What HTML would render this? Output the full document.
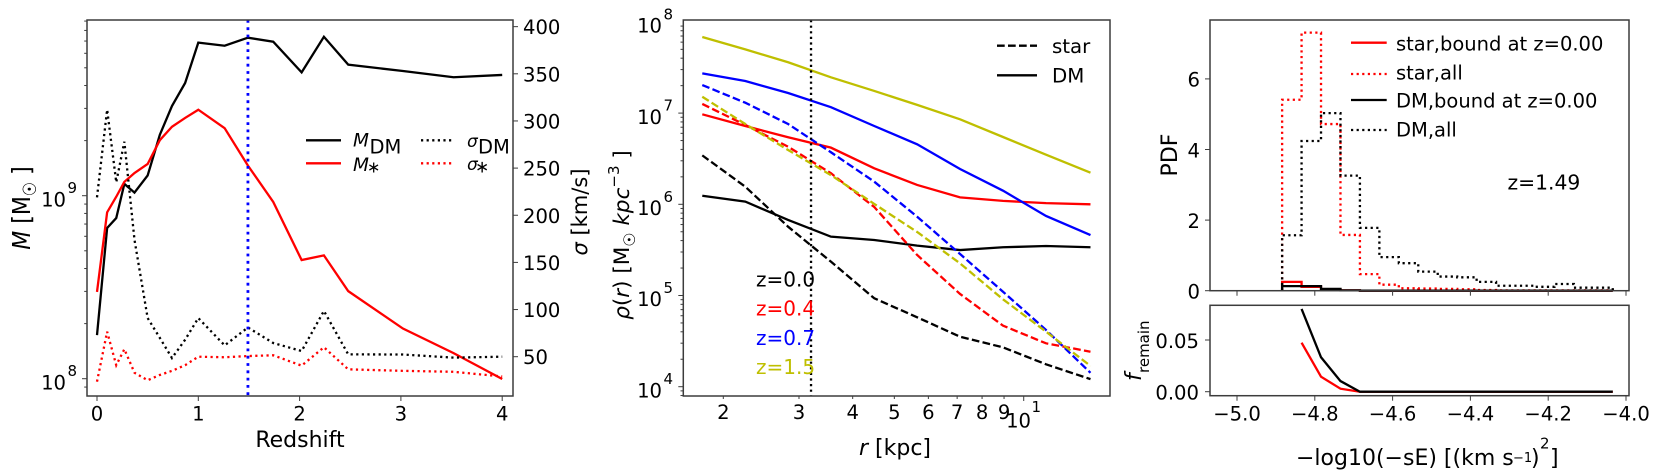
<!DOCTYPE html>
<html>
<head>
<meta charset="utf-8">
<title>Galaxy mass, density and energy panels</title>
<style>
html,body{margin:0;padding:0;background:#fff;width:1660px;height:475px;overflow:hidden}
svg{display:block;filter:blur(0.35px)}
text{font-family:"DejaVu Sans","Liberation Sans",sans-serif;fill:#000}
.i{font-style:italic}
</style>
</head>
<body>
<svg id="fig" xmlns="http://www.w3.org/2000/svg" width="1660" height="475" viewBox="0 0 1660 475">
  <rect x="0" y="0" width="1660" height="475" fill="#fff"/>
  <g id="p1"></g>
  <g id="p2"></g>
  <g id="p3"></g>
  <g id="p4"></g>

  <text x="300" y="447" font-size="22" text-anchor="middle">Redshift</text>
  <text transform="translate(30,208) rotate(-90) scale(1,1.15)" font-size="22" text-anchor="middle"><tspan class="i">M</tspan> [M<tspan font-size="16" dy="5">☉</tspan><tspan dy="-5"> ]</tspan></text>
  <text transform="translate(587,212) rotate(-90)" font-size="21" text-anchor="middle"><tspan class="i">σ</tspan> [km/s]</text>

  <g>
    <line x1="306" x2="341" y1="140.3" y2="140.3" stroke="#000" stroke-width="2.3"/>
    <text x="353" y="146.5" font-size="18.5" class="i">M</text>
    <text x="369.5" y="153.5" font-size="19.5">DM</text>
    <line x1="306" x2="341" y1="163.3" y2="163.3" stroke="#f00" stroke-width="2.3"/>
    <text x="353" y="171" font-size="18.5" class="i">M</text>
    <text x="367" y="172.5" font-size="16">∗</text>
    <line x1="421" x2="454" y1="140.3" y2="140.3" stroke="#000" stroke-width="2.3" stroke-dasharray="2.2 3.4"/>
    <text x="467" y="147" font-size="17" class="i">σ</text>
    <text x="478" y="153.5" font-size="19.5">DM</text>
    <line x1="421" x2="454" y1="163.3" y2="163.3" stroke="#f00" stroke-width="2.3" stroke-dasharray="2.2 3.4"/>
    <text x="467" y="170" font-size="17" class="i">σ</text>
    <text x="475" y="172.5" font-size="17">∗</text>
  </g>

  <text x="895" y="455" font-size="22" text-anchor="middle"><tspan class="i">r</tspan> [kpc]</text>
  <text transform="translate(629,235) rotate(-90)" font-size="21.5" text-anchor="middle"><tspan class="i">ρ</tspan>(<tspan class="i">r</tspan>) [M<tspan font-size="16" dy="6">☉</tspan><tspan class="i" dy="-6"> kpc</tspan><tspan font-size="15" dy="-10">−3</tspan><tspan dy="10"> ]</tspan></text>

  <g>
    <line x1="997" x2="1037" y1="45.7" y2="45.7" stroke="#000" stroke-width="2.3" stroke-dasharray="7.7 3.3"/>
    <text x="1052" y="53" font-size="19.8">star</text>
    <line x1="997" x2="1037" y1="75.3" y2="75.3" stroke="#000" stroke-width="2.3"/>
    <text x="1052" y="82.7" font-size="19.8">DM</text>
  </g>
  <g>
    <text x="756" y="286.7" font-size="20" style="fill:#000">z=0.0</text>
    <text x="756" y="315.7" font-size="20" style="fill:#f00">z=0.4</text>
    <text x="756" y="345" font-size="20" style="fill:#00f">z=0.7</text>
    <text x="756" y="374" font-size="20" style="fill:#bfbf00">z=1.5</text>
  </g>

  <text transform="translate(1177,155) rotate(-90)" font-size="22" text-anchor="middle">PDF</text>
  <g>
    <line x1="1351" x2="1386.7" y1="42.7" y2="42.7" stroke="#f00" stroke-width="2.3"/>
    <text x="1396" y="50.7" font-size="19.5">star,bound at z=0.00</text>
    <line x1="1351" x2="1386.7" y1="74" y2="74" stroke="#f00" stroke-width="2.3" stroke-dasharray="2.2 3.4"/>
    <text x="1396" y="79.3" font-size="19.5">star,all</text>
    <line x1="1351" x2="1386.7" y1="100" y2="100" stroke="#000" stroke-width="2.3"/>
    <text x="1396" y="107.7" font-size="19.5">DM,bound at z=0.00</text>
    <line x1="1351" x2="1386.7" y1="130" y2="130" stroke="#000" stroke-width="2.3" stroke-dasharray="2.2 3.4"/>
    <text x="1396" y="136.3" font-size="19.5">DM,all</text>
  </g>
  <text x="1507.5" y="189.3" font-size="20.3">z=1.49</text>
  <text transform="translate(1141,381) rotate(-90)" font-size="22"><tspan class="i">f</tspan></text>
  <text transform="translate(1149,373) rotate(-90)" font-size="15">remain</text>
  <text x="1296" y="465" font-size="22">−log10(−sE) [(km s<tspan x="1513" font-size="13" y="462">−1</tspan><tspan x="1531" y="465">)</tspan><tspan x="1540" y="448.5" font-size="15">2</tspan><tspan x="1550" y="465">]</tspan></text>
</svg>

<script>
// ---- Panel 1: mass and velocity dispersion history ----
const redshift = [0, 0.1, 0.19, 0.27, 0.37, 0.5, 0.62, 0.74, 0.87, 1.0, 1.26, 1.49, 1.74, 2.02, 2.24, 2.48, 3.02, 3.52, 4.0];
const massDM = [1.73e8, 6.66e8, 7.55e8, 1.16e9, 1.04e9, 1.29e9, 2.15e9, 3.09e9, 4.13e9, 6.86e9, 6.60e9, 7.30e9, 6.94e9, 4.72e9, 7.39e9, 5.20e9, 4.80e9, 4.44e9, 4.57e9];
const massStar = [2.98e8, 8.11e8, 9.87e8, 1.19e9, 1.33e9, 1.49e9, 2.01e9, 2.38e9, 2.66e9, 2.95e9, 2.34e9, 1.46e9, 9.24e8, 4.45e8, 4.72e8, 3.01e8, 1.88e8, 1.38e8, 9.96e7];
const sigmaDM = [219, 312, 235, 278, 174, 91, 70, 48.6, 68, 91, 62, 81, 64.5, 56, 98.5, 52.5, 52.3, 49, 50];
const sigmaStar = [23.5, 76.5, 41, 58, 33, 25, 30.6, 35, 41, 50, 49.4, 50.7, 51.5, 40.5, 60, 36.6, 35, 34, 29];
const redshiftMarker = 1.49;
const redshiftTicks = [0, 1, 2, 3, 4];
const sigmaTicks = [50, 100, 150, 200, 250, 300, 350, 400];
const massDecades = [8, 9];

// ---- Panel 2: density profiles ----
const radius = [1.787, 2.25, 2.83, 3.56, 4.49, 5.65, 7.11, 8.95, 11.27, 14.3];
const dmZ00 = [1.24e6, 1.07e6, 6.73e5, 4.42e5, 4.06e5, 3.52e5, 3.15e5, 3.38e5, 3.49e5, 3.38e5];
const dmZ04 = [9.7e6, 7.22e6, 5.43e6, 4.18e6, 2.48e6, 1.63e6, 1.19e6, 1.09e6, 1.03e6, 1.0e6];
const dmZ07 = [2.73e7, 2.25e7, 1.66e7, 1.16e7, 7.22e6, 4.55e6, 2.44e6, 1.41e6, 7.45e5, 4.60e5];
const dmZ15 = [6.83e7, 5.0e7, 3.61e7, 2.47e7, 1.75e7, 1.23e7, 8.55e6, 5.47e6, 3.50e6, 2.22e6];
const starZ00 = [3.44e6, 1.56e6, 5.68e5, 2.35e5, 9.32e4, 5.77e4, 3.53e4, 2.70e4, 1.76e4, 1.21e4];
const starZ04 = [1.26e7, 7.41e6, 4.28e6, 2.19e6, 9.34e5, 2.78e5, 1.04e5, 4.67e4, 2.99e4, 2.42e4];
const starZ07 = [2.03e7, 1.30e7, 7.59e6, 3.72e6, 1.77e6, 7.31e5, 2.85e5, 1.10e5, 4.19e4, 1.42e4];
const starZ15 = [1.51e7, 7.59e6, 3.94e6, 2.09e6, 1.01e6, 4.97e5, 2.25e5, 9.08e4, 4.01e4, 1.69e4];
const radiusMarker = 3.2;
const radiusTicks = [2, 3, 4, 5, 6, 7, 8, 9];
const densityDecades = [4, 5, 6, 7, 8];

// ---- Panel 3: energy PDF histograms ----
const energyEdges = [-4.884, -4.834, -4.784, -4.734, -4.684, -4.634, -4.584, -4.534, -4.484, -4.434, -4.384, -4.334, -4.284, -4.234, -4.184, -4.134, -4.084, -4.034];
const pdfStarBound = [0.25, 0.11, 0.04, 0.01, 0, 0, 0, 0, 0, 0, 0, 0, 0, 0, 0, 0, 0];
const pdfStarAll = [5.41, 7.31, 4.72, 1.58, 0.47, 0.17, 0.07, 0.06, 0.05, 0.04, 0.02, 0.01, 0.01, 0.01, 0.01, 0.01, 0.01];
const pdfDMBound = [0.13, 0.13, 0.05, 0.01, 0, 0, 0, 0, 0, 0, 0, 0, 0, 0, 0, 0, 0];
const pdfDMAll = [1.57, 4.24, 5.03, 3.26, 1.78, 0.95, 0.78, 0.54, 0.40, 0.38, 0.25, 0.14, 0.14, 0.11, 0.19, 0.085, 0.085];
const pdfTicks = [0, 2, 4, 6];
const energyTicks = [-5.0, -4.8, -4.6, -4.4, -4.2, -4.0];

// ---- Panel 4: remaining fraction ----
const fracEnergy = [-4.834, -4.784, -4.734, -4.684, -4.634, -4.584, -4.534, -4.484, -4.434, -4.384, -4.334, -4.284, -4.234, -4.184, -4.134, -4.084, -4.034];
const fracDM = [0.08, 0.0333, 0.0103, 0, 0, 0, 0, 0, 0, 0, 0, 0, 0, 0, 0, 0, 0];
const fracStar = [0.0474, 0.0145, 0.0029, 0, 0, 0, 0, 0, 0, 0, 0, 0, 0, 0, 0, 0, 0];
const fracTicks = [0, 0.05];

const NS = 'http://www.w3.org/2000/svg';
const AXIS = '#3c3c3c';
const YEL = '#bfbf00';
const DOT = '2.2 3.4';
const DASH = '7.7 3.3';
const LW = 2.3;
const TICK_FONT = 19.6;

function el(parent, tag, attrs, text) {
  const e = document.createElementNS(NS, tag);
  for (const k in attrs) e.setAttribute(k, attrs[k]);
  if (text !== undefined) e.textContent = text;
  parent.appendChild(e);
  return e;
}

function series(parent, name, xs, ys, sx, sy, color, dash, width) {
  const d = xs.map((v, i) => (i ? 'L' : 'M') + sx(v).toFixed(2) + ' ' + sy(ys[i]).toFixed(2)).join('');
  const p = el(parent, 'path', {d: d, fill: 'none', stroke: color, 'stroke-width': width || LW, 'stroke-dasharray': dash || 'none', 'stroke-linejoin': 'miter'});
  
  
  return p;
}

function stepHist(parent, name, edges, vals, sx, sy, color, dash) {
  let d = 'M' + sx(edges[0]).toFixed(2) + ' ' + sy(0).toFixed(2);
  vals.forEach((v, i) => {
    d += 'L' + sx(edges[i]).toFixed(2) + ' ' + sy(v).toFixed(2);
    d += 'L' + sx(edges[i + 1]).toFixed(2) + ' ' + sy(v).toFixed(2);
  });
  d += 'L' + sx(edges[edges.length - 1]).toFixed(2) + ' ' + sy(0).toFixed(2);
  const p = el(parent, 'path', {d: d, fill: 'none', stroke: color, 'stroke-width': LW, 'stroke-dasharray': dash || 'none'});
  
  
  return p;
}

function frame(parent, name, l, t, r, b) {
  const f = el(parent, 'rect', {x: l, y: t, width: r - l, height: b - t, fill: 'none', stroke: AXIS, 'stroke-width': 1.5});
  
  
}

function tick(parent, name, x1, y1, x2, y2) {
  const t = el(parent, 'line', {x1: x1, y1: y1, x2: x2, y2: y2, stroke: AXIS, 'stroke-width': 1});
  
  
}

function label(parent, name, x, y, anchor, size, str) {
  const t = el(parent, 'text', {x: x, y: y, 'text-anchor': anchor, 'font-size': size}, str);
  
  
}

function logAxis(parent, decades, sy, axisX, endX, supX, lo, hi) {
  for (let e = lo; e <= hi; e++) {
    for (let m = 1; m < 10; m++) {
      const v = e + Math.log10(m);
      const y = sy(Math.pow(10, v));
      if (y < 20 || y > 396) continue;
      tick(parent, m === 1 ? 'y-major-tick' : 'y-minor-tick', axisX - (m === 1 ? 5 : 2.8), y, axisX, y);
    }
  }
  decades.forEach(e => {
    const y = sy(Math.pow(10, e));
    label(parent, 'y-tick-label', endX, y + 10.7, 'end', TICK_FONT, '10');
    label(parent, 'y-tick-exponent', supX, y - 2.5, 'start', 15, String(e));
  });
}

const g1 = document.getElementById('p1');
const g2 = document.getElementById('p2');
const g3 = document.getElementById('p3');
const g4 = document.getElementById('p4');

// Panel 1
const x1 = z => 97 + 101.3 * z;
const yM = m => 378.7 - 183 * (Math.log10(m) - 8);
const yS = s => 356.7 - (s - 50) * 0.943;
series(g1, 'm-dm-line', redshift, massDM, x1, yM, '#000');
series(g1, 'm-star-line', redshift, massStar, x1, yM, '#f00');
series(g1, 'sigma-dm-line', redshift, sigmaDM, x1, yS, '#000', DOT);
series(g1, 'sigma-star-line', redshift, sigmaStar, x1, yS, '#f00', DOT);
const mk1 = el(g1, 'line', {x1: x1(redshiftMarker), x2: x1(redshiftMarker), y1: 20, y2: 396, stroke: '#00f', 'stroke-width': 2.8, 'stroke-dasharray': '2.8 4.5'});


frame(g1, 'mass-axes-frame', 87, 20, 513, 396);
redshiftTicks.forEach(z => {
  tick(g1, 'x-tick', x1(z), 396, x1(z), 401);
  label(g1, 'x-tick-label', x1(z), 420.5, 'middle', TICK_FONT, String(z));
});
logAxis(g1, massDecades, yM, 87, 66, 67.5, 7, 9);
sigmaTicks.forEach(s => {
  tick(g1, 'sigma-tick', 513, yS(s), 518, yS(s));
  label(g1, 'sigma-tick-label', 523, yS(s) + 7.5, 'start', TICK_FONT, String(s));
});

// Panel 2
const x2 = r => 723.3 + 429.8 * Math.log10(r / 2);
const yD = d => 386.7 - 91.2 * (Math.log10(d) - 4);
series(g2, 'star-z0-0-line', radius, starZ00, x2, yD, '#000', DASH);
series(g2, 'dm-z0-0-line', radius, dmZ00, x2, yD, '#000');
series(g2, 'star-z0-4-line', radius, starZ04, x2, yD, '#f00', DASH);
series(g2, 'dm-z0-4-line', radius, dmZ04, x2, yD, '#f00');
series(g2, 'star-z0-7-line', radius, starZ07, x2, yD, '#00f', DASH);
series(g2, 'dm-z0-7-line', radius, dmZ07, x2, yD, '#00f');
series(g2, 'star-z1-5-line', radius, starZ15, x2, yD, YEL, DASH);
series(g2, 'dm-z1-5-line', radius, dmZ15, x2, yD, YEL);
const mk2 = el(g2, 'line', {x1: x2(radiusMarker), x2: x2(radiusMarker), y1: 20, y2: 396, stroke: '#000', 'stroke-width': 2.3, 'stroke-dasharray': DOT});


frame(g2, 'density-axes-frame', 683.3, 20, 1110, 396);
radiusTicks.forEach(r => {
  tick(g2, 'x-minor-tick', x2(r), 396, x2(r), 399);
  label(g2, 'x-tick-label', x2(r), 419, 'middle', TICK_FONT, String(r));
});
tick(g2, 'x-major-tick', x2(10), 396, x2(10), 401);
label(g2, 'x-tick-label', 1031, 427.3, 'end', TICK_FONT, '10');
label(g2, 'x-tick-exponent', 1031.5, 412, 'start', 15, '1');
logAxis(g2, densityDecades, yD, 683.3, 662, 663.5, 3, 7);

// Panel 3
const xE = v => 1237 + (v + 5) * 389;
const yP = v => 290.7 - v * 35.3;
stepHist(g3, 'star-bound-hist', energyEdges, pdfStarBound, xE, yP, '#f00');
stepHist(g3, 'star-all-hist', energyEdges, pdfStarAll, xE, yP, '#f00', DOT);
stepHist(g3, 'dm-bound-hist', energyEdges, pdfDMBound, xE, yP, '#000');
stepHist(g3, 'dm-all-hist', energyEdges, pdfDMAll, xE, yP, '#000', DOT);
frame(g3, 'pdf-axes-frame', 1210, 20, 1629, 290.7);
pdfTicks.forEach(v => {
  tick(g3, 'pdf-tick', 1205, yP(v), 1210, yP(v));
  label(g3, 'pdf-tick-label', 1200, yP(v) + 7.8, 'end', TICK_FONT, String(v));
});
energyTicks.forEach(v => {
  tick(g3, 'pdf-x-tick', xE(v), 290.7, xE(v), 295.7);
});

// Panel 4
const yF = v => 391.7 - v / 0.05 * 51.7;
series(g4, 'f-remain-star-line', fracEnergy, fracStar, xE, yF, '#f00');
series(g4, 'f-remain-dm-line', fracEnergy, fracDM, xE, yF, '#000');
frame(g4, 'fraction-axes-frame', 1210, 305.3, 1629, 395.7);
fracTicks.forEach(v => {
  tick(g4, 'fraction-tick', 1205, yF(v), 1210, yF(v));
  label(g4, 'fraction-tick-label', 1199, yF(v) + 7.8, 'end', TICK_FONT, v.toFixed(2));
});
energyTicks.forEach(v => {
  tick(g4, 'energy-tick', xE(v), 395.7, xE(v), 400.7);
  label(g4, 'energy-tick-label', xE(v), 420.7, 'middle', TICK_FONT, '−' + Math.abs(v).toFixed(1));
});
</script>
</body>
</html>
